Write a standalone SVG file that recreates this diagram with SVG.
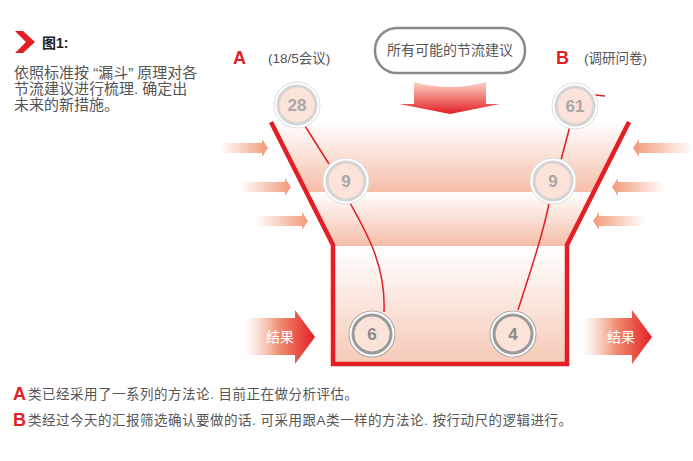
<svg xmlns="http://www.w3.org/2000/svg" width="693" height="461" viewBox="0 0 693 461">
<defs>
<style>
.t{font-family:"Liberation Sans","Noto Sans CJK SC",sans-serif;fill:#555}
.red{fill:#e31e24;font-family:"Liberation Sans",Arial,sans-serif;font-weight:bold}
.num{font-family:"Liberation Sans",Arial,sans-serif;font-weight:bold;font-size:17px;text-anchor:middle}
.conn{fill:none;stroke:#e31e24;stroke-width:1.5}
.ring{fill:#fff;stroke:#ddd;stroke-width:1}
.inner{fill:#fbe3da;stroke:#d4d4d4;stroke-width:3}
.inner2{fill:#fbe3da;stroke:#9a9a9a;stroke-width:3}
.ring2{fill:#fff;stroke:#b0b0b0;stroke-width:1.2}
.res{font-family:"Liberation Sans","Noto Sans CJK SC",sans-serif;font-size:14px;fill:#fff;text-anchor:middle}
.desc{font-size:15px}
.note{font-size:13.5px;letter-spacing:0.5px}
</style>
<linearGradient id="band" x1="0" y1="0" x2="0" y2="1">
<stop offset="0" stop-color="#fff"/><stop offset="1" stop-color="#f5bea8"/>
</linearGradient>
<linearGradient id="box" x1="0" y1="0" x2="0" y2="1">
<stop offset="0" stop-color="#fff"/><stop offset="1" stop-color="#f6c9b6"/>
</linearGradient>
<linearGradient id="sideL" x1="0" y1="0" x2="1" y2="0">
<stop offset="0" stop-color="#f29a78" stop-opacity="0"/><stop offset="1" stop-color="#f29a78"/>
</linearGradient>
<linearGradient id="sideR" x1="1" y1="0" x2="0" y2="0">
<stop offset="0" stop-color="#f29a78" stop-opacity="0"/><stop offset="1" stop-color="#f29a78"/>
</linearGradient>
<linearGradient id="resG" x1="0" y1="0" x2="1" y2="0">
<stop offset="0" stop-color="#f6b7a0" stop-opacity="0"/><stop offset="0.5" stop-color="#ef8a6e"/><stop offset="1" stop-color="#e31e24"/>
</linearGradient>
<linearGradient id="downG" x1="0" y1="0" x2="0" y2="1">
<stop offset="0" stop-color="#fbd5c8"/><stop offset="1" stop-color="#e31e24"/>
</linearGradient>
<clipPath id="funnelClip">
<polygon points="271,122 333,245 333,364 567,364 567,245 629,122"/>
</clipPath>
</defs>
<rect width="693" height="461" fill="#fff"/>

<g id="title">
<polygon points="15,31 23,31 35,42 23,53 15,53 26,42" fill="#e31e24"/>
<text x="42" y="48" class="t" style="font-size:14px;font-weight:bold;fill:#222">图1:</text>
<text class="t desc" x="14" y="78">依照标准按 “漏斗” 原理对各</text>
<text class="t desc" x="14" y="94">节流建议进行梳理. 确定出</text>
<text class="t desc" x="14" y="110">未来的新措施。</text>
</g>

<g id="funnel">
<g clip-path="url(#funnelClip)">
<rect x="260" y="122" width="380" height="70" fill="url(#band)"/>
<rect x="260" y="192" width="380" height="54" fill="url(#band)"/>
<rect x="260" y="246" width="380" height="118" fill="url(#box)"/>
</g>
<polyline points="271,122 333,245 333,364 567,364 567,245 629,122" fill="none" stroke="#e31e24" stroke-width="4.5"/>
</g>

<g id="side-arrows">
<polygon points="220,143 262,143 262,139 268,148 262,157 262,153 220,153" fill="url(#sideL)"/>
<polygon points="240,182 285,182 285,178 291,187 285,196 285,192 240,192" fill="url(#sideL)"/>
<polygon points="255,216 302,216 302,212 308,221 302,230 302,226 255,226" fill="url(#sideL)"/>
<polygon points="693,143 639,143 639,139 633,148 639,157 639,153 693,153" fill="url(#sideR)"/>
<polygon points="665,182 618,182 618,178 612,187 618,196 618,192 665,192" fill="url(#sideR)"/>
<polygon points="645,216 599,216 599,212 593,221 599,230 599,226 645,226" fill="url(#sideR)"/>
</g>

<g id="labels">
<text x="233" y="64" class="red" style="font-size:18px">A</text>
<text x="268" y="63" class="t" style="font-size:13.5px">(18/5会议)</text>
<text x="556" y="64" class="red" style="font-size:18px">B</text>
<text x="584" y="63" class="t" style="font-size:13.5px">(调研问卷)</text>
</g>

<g id="top-box">
<rect x="375" y="28" width="150" height="45" rx="22" ry="22" fill="#fff" stroke="#8a8a8a" stroke-width="2.5"/>
<text x="450" y="55" class="t" style="font-size:14px;text-anchor:middle">所有可能的节流建议</text>
</g>

<g id="down-arrow">
<path d="M414,82 Q450,92 486,82 L486,104 L500,104 L450,114 L399,104 L414,104 Z" fill="url(#downG)"/>
</g>

<g id="connectors">
<path class="conn" d="M305,126 L329,164"/>
<path class="conn" d="M350,203 C366,232 386,265 384,312"/>
<path class="conn" d="M595,95 L605,96"/>
<path class="conn" d="M570,126 L561,160"/>
<path class="conn" d="M549,203 C543,236 530,272 518,310"/>
</g>

<g id="n28"><circle cx="297" cy="105" r="23" class="ring"/><circle cx="297" cy="105" r="19" class="inner"/><text x="297" y="111" class="num" fill="#a8a8a8">28</text></g>
<g id="n61"><circle cx="575" cy="106" r="23" class="ring"/><circle cx="575" cy="106" r="19" class="inner"/><text x="575" y="112" class="num" fill="#a8a8a8">61</text></g>
<g id="n9a"><circle cx="346" cy="181" r="23" class="ring"/><circle cx="346" cy="181" r="19" class="inner"/><text x="346" y="187" class="num" fill="#a8a8a8">9</text></g>
<g id="n9b"><circle cx="553" cy="181" r="23" class="ring"/><circle cx="553" cy="181" r="19" class="inner"/><text x="553" y="187" class="num" fill="#a8a8a8">9</text></g>
<g id="n6"><circle cx="372" cy="334" r="23" class="ring2"/><circle cx="372" cy="334" r="19" class="inner2"/><text x="372" y="340" class="num" fill="#8a8a8a">6</text></g>
<g id="n4"><circle cx="513" cy="334" r="23" class="ring2"/><circle cx="513" cy="334" r="19" class="inner2"/><text x="513" y="340" class="num" fill="#8a8a8a">4</text></g>

<g id="result-left">
<polygon points="245,318 295,318 295,310 315,337 295,364 295,355 245,355" fill="url(#resG)"/>
<text x="280" y="342" class="res">结果</text>
</g>
<g id="result-right">
<polygon points="582,318 632,318 632,310 652,337 632,364 632,355 582,355" fill="url(#resG)"/>
<text x="621" y="342" class="res">结果</text>
</g>

<g id="notes">
<text x="13" y="400" class="red" style="font-size:18px">A</text>
<text x="28" y="399" class="t note">类已经采用了一系列的方法论. 目前正在做分析评估。</text>
<text x="13" y="426" class="red" style="font-size:18px">B</text>
<text x="28" y="425" class="t note">类经过今天的汇报筛选确认要做的话. 可采用跟A类一样的方法论. 按行动尺的逻辑进行。</text>
</g>
</svg>
